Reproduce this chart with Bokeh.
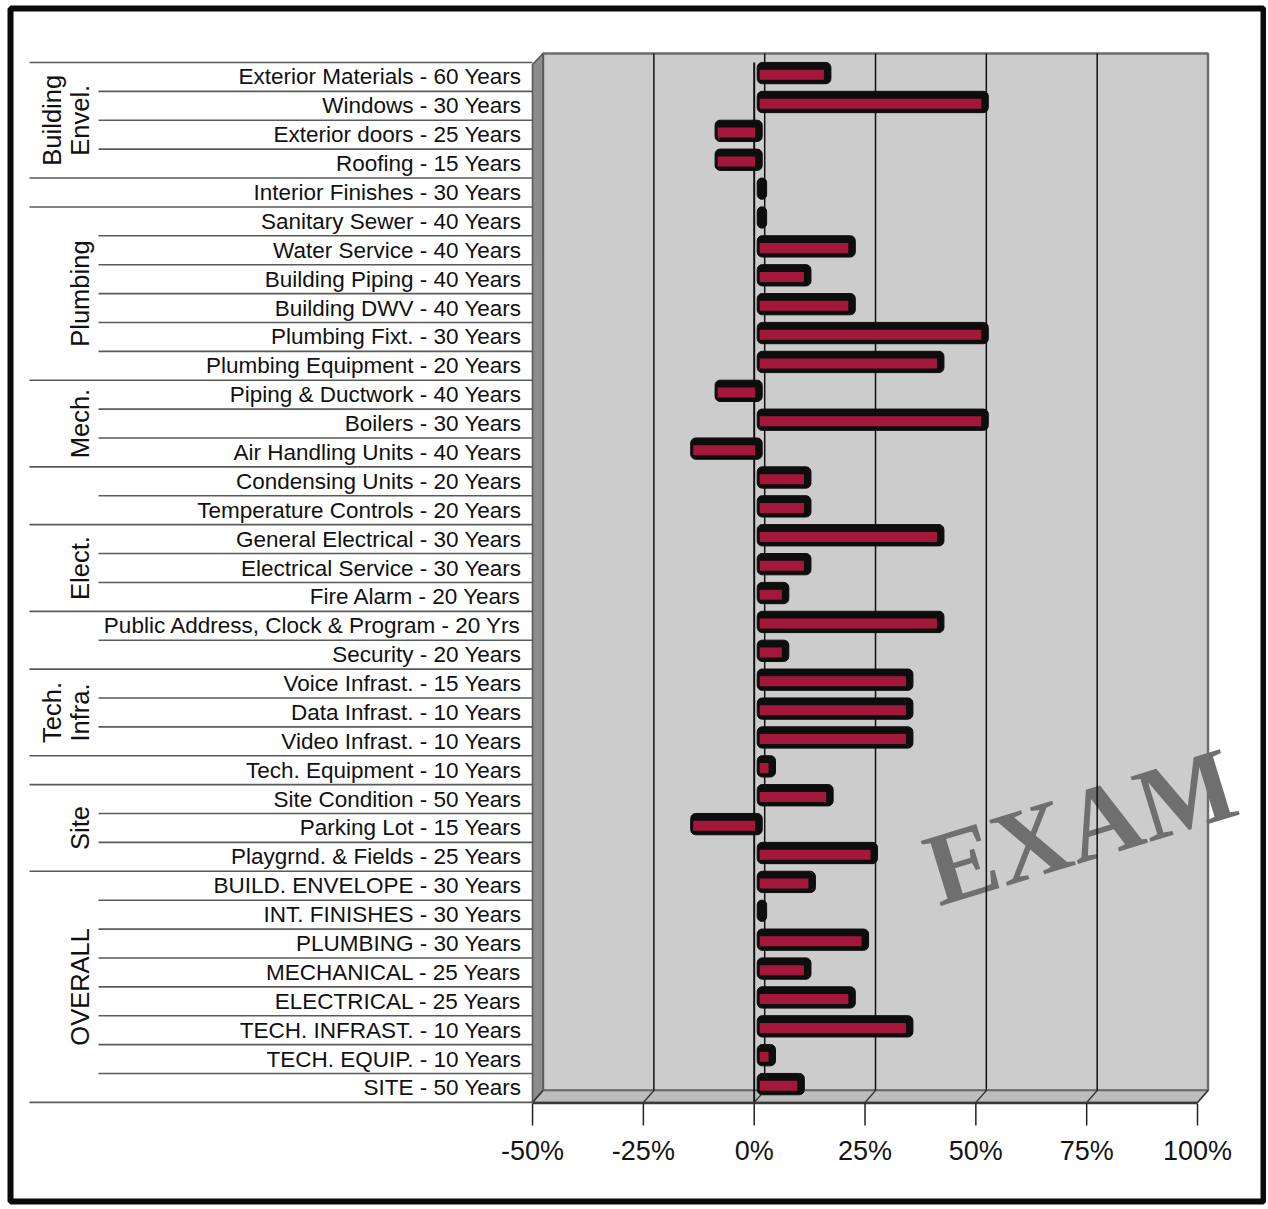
import numpy as np
from bokeh.plotting import figure
from bokeh.models import Range1d
from bokeh.embed import file_html
from bokeh.resources import INLINE
from bokeh.core.properties import value

# ---------------- data ----------------
LABELS = [
    "Exterior Materials - 60 Years", "Windows - 30 Years", "Exterior doors - 25 Years",
    "Roofing - 15 Years", "Interior Finishes - 30 Years", "Sanitary Sewer - 40 Years",
    "Water Service - 40 Years", "Building Piping - 40 Years", "Building DWV - 40 Years",
    "Plumbing Fixt. - 30 Years", "Plumbing Equipment - 20 Years", "Piping & Ductwork - 40 Years",
    "Boilers - 30 Years", "Air Handling Units - 40 Years", "Condensing Units - 20 Years",
    "Temperature Controls - 20 Years", "General Electrical - 30 Years", "Electrical Service - 30 Years",
    "Fire Alarm - 20 Years", "Public Address, Clock & Program - 20 Yrs", "Security - 20 Years",
    "Voice Infrast. - 15 Years", "Data Infrast. - 10 Years", "Video Infrast. - 10 Years",
    "Tech. Equipment - 10 Years", "Site Condition - 50 Years", "Parking Lot - 15 Years",
    "Playgrnd. & Fields - 25 Years", "BUILD. ENVELOPE - 30 Years", "INT. FINISHES - 30 Years",
    "PLUMBING - 30 Years", "MECHANICAL - 25 Years", "ELECTRICAL - 25 Years",
    "TECH. INFRAST. - 10 Years", "TECH. EQUIP. - 10 Years", "SITE - 50 Years",
]
VALUES = [
    15.5, 51, -9.5, -9.5, 1, 1,
    21, 11, 21, 51, 41, -9.5,
    51, -15, 11, 11, 41, 11,
    6, 41, 6, 34, 34, 34,
    3, 16, -15, 26, 12, 1,
    24, 11, 21, 34, 3, 9.5,
]
GROUP_LINE1 = ["Building", "", "", "", "Tech.", "", ""]
GROUP_LINE2 = ["Envel.", "Plumbing", "Mech.", "Elect.", "Infra.", "Site", "OVERALL"]
GROUP_FIRST = [0, 5, 11, 16, 21, 25, 28]
GROUP_LAST = [3, 10, 13, 18, 23, 27, 35]
GROUP_BOUNDARIES = [0, 4, 5, 11, 14, 16, 19, 21, 24, 25, 28, 36]
TICKS = [-50, -25, 0, 25, 50, 75, 100]
TICK_LABELS = ["-50%", "-25%", "0%", "25%", "50%", "75%", "100%"]
WATERMARK = "EXAM"

# ---------------- geometry ----------------
W, H = 1266, 1206
X0_PX, PX_PER_PCT = 753.7, 4.433      # px of 0 %, px per percent
Y0_PX, PX_PER_ROW = 76.44, 28.886     # px of row 0 centre, px per row


def fx(px):
    return (px - X0_PX) / PX_PER_PCT


def fy(px):
    return (px - Y0_PX) / PX_PER_ROW


def dx(px):
    return px / PX_PER_PCT


def dy(px):
    return px / PX_PER_ROW


p = figure(width=W, height=H, output_backend="svg", toolbar_location=None,
           x_range=Range1d(fx(0), fx(W)),
           y_range=Range1d(fy(H), fy(0)),
           x_axis_location=None, y_axis_location=None,
           min_border=0, tools="")
p.grid.visible = False
p.outline_line_color = None
p.background_fill_color = "white"
p.border_fill_color = "white"

FONT = value("Liberation Sans")
DEPTH_X = dx(10.5)

# back wall
p.quad(left=[fx(542.5)], right=[fx(1207.5)], top=[fy(53)], bottom=[fy(1090)],
       fill_color="#cccccc", line_color="#6e6e6e", line_width=2.5)
# left side wall
p.patch(x=[fx(532), fx(542.5), fx(542.5), fx(532)], y=[fy(64), fy(53), fy(1090), fy(1102)],
        fill_color="#8c8c8c", line_color="#555555", line_width=1.5)
# floor
p.patch(x=[fx(532), fx(542.5), fx(1207.5), fx(1197)], y=[fy(1102), fy(1090), fy(1090), fy(1102)],
        fill_color="#bdbdbd", line_color="#666666", line_width=1.5)

# watermark
p.text(x=[fx(928)], y=[fy(872)], text=[WATERMARK], angle=np.deg2rad(17),
       text_font=value("Liberation Serif"), text_font_style="bold", text_font_size="104px",
       text_color="#6f6f6f", text_align="left", text_baseline="middle")

# back-wall gridlines and floor diagonals
inner = TICKS[1:-1]
p.segment(x0=[t + DEPTH_X for t in inner], y0=[fy(53)] * len(inner),
          x1=[t + DEPTH_X for t in inner], y1=[fy(1090)] * len(inner),
          line_color="#111111", line_width=1.5)
p.segment(x0=[t + DEPTH_X for t in TICKS], y0=[fy(1090)] * len(TICKS),
          x1=TICKS, y1=[fy(1102)] * len(TICKS), line_color="#333333", line_width=1.3)

# zero line at the front
p.segment(x0=[0], y0=[fy(62)], x1=[0], y1=[fy(1102)], line_color="#111111", line_width=2)

# bars
rows = np.arange(len(VALUES))
vals = np.array(VALUES, dtype=float)
lo = np.minimum(vals, 0)
hi = np.maximum(vals, 0)
p.quad(left=lo + dx(3), right=hi + dx(8), top=rows - dy(14.5), bottom=rows + dy(6.8),
       fill_color="#0d0d0d", line_color="#0d0d0d", line_width=1, border_radius=5)
p.quad(left=lo + dx(5.5), right=np.maximum(hi + dx(1), lo + dx(5.5)),
       top=rows - dy(7.2), bottom=rows + dy(2.8),
       fill_color="#a3183a", line_color=None)

# floor front edge
p.segment(x0=[fx(532)], y0=[fy(1102.5)], x1=[fx(1197)], y1=[fy(1102.5)],
          line_color="#3a3a3a", line_width=2.5)

# ticks and tick labels
p.segment(x0=TICKS, y0=[fy(1103)] * len(TICKS), x1=TICKS, y1=[fy(1125)] * len(TICKS),
          line_color="#222222", line_width=1.5)
p.text(x=TICKS, y=[fy(1150)] * len(TICKS), text=TICK_LABELS, text_font=FONT,
       text_font_size="27px", text_color="#141414", text_align="center", text_baseline="middle")

# separator lines in the label area
ks = np.arange(len(LABELS) + 1)
starts = [fx(29) if k in GROUP_BOUNDARIES else fx(98) for k in ks]
p.segment(x0=starts, y0=ks - 0.5, x1=[fx(532)] * len(ks), y1=ks - 0.5,
          line_color="#5a5a5a", line_width=1.6)

# category labels
p.text(x=[fx(521)] * len(LABELS), y=rows, text=LABELS, text_font=FONT,
       text_font_size="22.5px", text_color="#111111", text_align="right", text_baseline="middle")

# group labels (rotated)
centres = [(a + b) / 2 for a, b in zip(GROUP_FIRST, GROUP_LAST)]
l1_idx = [i for i, s in enumerate(GROUP_LINE1) if s]
p.text(x=[fx(51)] * len(l1_idx), y=[centres[i] for i in l1_idx], text=[GROUP_LINE1[i] for i in l1_idx],
       angle=np.pi / 2, text_font=FONT, text_font_size="25.5px", text_color="#111111",
       text_align="center", text_baseline="middle")
p.text(x=[fx(79)] * len(GROUP_LINE2), y=centres, text=GROUP_LINE2,
       angle=np.pi / 2, text_font=FONT, text_font_size="25.5px", text_color="#111111",
       text_align="center", text_baseline="middle")

# outer frame border
p.quad(left=[fx(10)], right=[fx(1263)], top=[fy(8)], bottom=[fy(1201)],
       fill_color=None, line_color="#0a0a0a", line_width=6)

open("out.html", "w").write(file_html(p, INLINE))
